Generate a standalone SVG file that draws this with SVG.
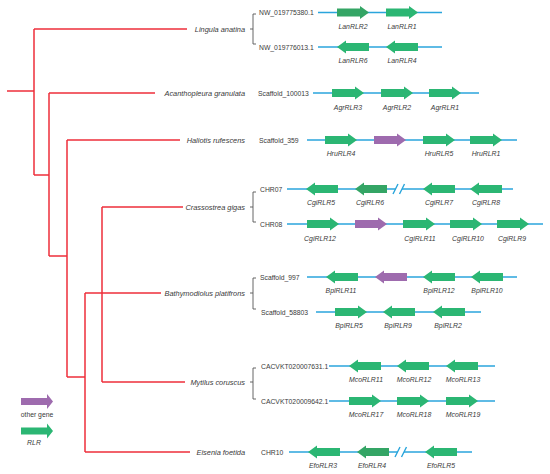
<svg xmlns="http://www.w3.org/2000/svg" xmlns:xlink="http://www.w3.org/1999/xlink" width="550" height="474" viewBox="0 0 550 474">
<style>
text{font-family:"Liberation Sans",Arial,sans-serif;fill:#3a3a3a}
.sp{font-size:7.4px;font-style:italic;text-anchor:end}
.sc{font-size:6.8px}
.gl{font-size:6.9px;font-style:italic;text-anchor:middle}
.tree{stroke:#ee2e3a;stroke-width:1.5;fill:none}
.br{stroke:#555;stroke-width:0.9;fill:none}
.tk{stroke:#2aa5dc;stroke-width:1.4}
.g{fill:#2bb673}
.d{fill:#34a565}
.p{fill:#9e6bae}
.cut{stroke:#2aa5dc;stroke-width:1.4}
</style>
<defs>
<path id="ar" d="M0,-4H23V-6.5L32,0L23,6.5V4H0Z"/>
<path id="lg" d="M0,-3.6H26V-7.4L32,0L26,7.4V3.6H0Z"/>
</defs>
<g id="connectors" class="tree">
<path d="M7,91H34"/>
<path d="M34,29V175"/>
<path d="M34,29H187"/>
<path d="M34,175H49"/>
<path d="M49,93V256"/>
<path d="M49,93H155"/>
<path d="M49,256H67"/>
<path d="M67,140V377"/>
<path d="M67,140H180"/>
<path d="M67,377H85"/>
<path d="M85,293V452"/>
<path d="M85,293H161"/>
<path d="M85,452H190"/>
<path d="M102,207V382"/>
<path d="M102,207H183"/>
<path d="M102,382H185"/>
</g>
<g id="lingula">
<text class="sp" x="245" y="31.5">Lingula anatina</text>
<path class="br" d="M250,29H253M256,14H253V44H256"/>
<text class="sc" x="259" y="15">NW_019775380.1</text>
<line class="tk" x1="318" y1="12.5" x2="442" y2="12.5"/>
<use xlink:href="#ar" class="d" transform="translate(337,12.5)"/>
<use xlink:href="#ar" class="g" transform="translate(386,12.5)"/>
<text class="gl" x="353" y="28.5">LanRLR2</text>
<text class="gl" x="402" y="28.5">LanRLR1</text>
<text class="sc" x="259" y="49.5">NW_019776013.1</text>
<line class="tk" x1="318" y1="47" x2="442" y2="47"/>
<use xlink:href="#ar" class="g" transform="translate(369,47) scale(-1,1)"/>
<use xlink:href="#ar" class="g" transform="translate(418,47) scale(-1,1)"/>
<text class="gl" x="353" y="63">LanRLR6</text>
<text class="gl" x="402" y="63">LanRLR4</text>
</g>
<g id="acanthopleura">
<text class="sp" x="245" y="95.5">Acanthopleura granulata</text>
<text class="sc" x="258" y="95.5">Scaffold_100013</text>
<line class="tk" x1="313" y1="93" x2="479" y2="93"/>
<use xlink:href="#ar" class="g" transform="translate(332,93)"/>
<use xlink:href="#ar" class="g" transform="translate(381,93)"/>
<use xlink:href="#ar" class="g" transform="translate(429,93)"/>
<text class="gl" x="348" y="109.5">AgrRLR3</text>
<text class="gl" x="397" y="109.5">AgrRLR2</text>
<text class="gl" x="445" y="109.5">AgrRLR1</text>
</g>
<g id="haliotis">
<text class="sp" x="245" y="142.5">Haliotis rufescens</text>
<text class="sc" x="259" y="142.5">Scaffold_359</text>
<line class="tk" x1="307" y1="140" x2="517" y2="140"/>
<use xlink:href="#ar" class="g" transform="translate(325,140)"/>
<use xlink:href="#ar" class="p" transform="translate(374,140)"/>
<use xlink:href="#ar" class="g" transform="translate(423,140)"/>
<use xlink:href="#ar" class="g" transform="translate(470,140)"/>
<text class="gl" x="341" y="156">HruRLR4</text>
<text class="gl" x="439" y="156">HruRLR5</text>
<text class="gl" x="486" y="156">HruRLR1</text>
</g>
<g id="crassostrea">
<text class="sp" x="245" y="209.5">Crassostrea gigas</text>
<path class="br" d="M250,207H253M256,192H253V222H256"/>
<text class="sc" x="260" y="191.5">CHR07</text>
<line class="tk" x1="287" y1="189" x2="396" y2="189"/>
<line class="tk" x1="402" y1="189" x2="513" y2="189"/>
<path class="cut" d="M393,194L398,184M399.5,194L404.5,184"/>
<use xlink:href="#ar" class="g" transform="translate(338,189) scale(-1,1)"/>
<use xlink:href="#ar" class="d" transform="translate(387,189) scale(-1,1)"/>
<use xlink:href="#ar" class="g" transform="translate(455,189) scale(-1,1)"/>
<use xlink:href="#ar" class="g" transform="translate(502,189) scale(-1,1)"/>
<text class="gl" x="321" y="205">CgiRLR5</text>
<text class="gl" x="370" y="205">CgiRLR6</text>
<text class="gl" x="439" y="205">CgiRLR7</text>
<text class="gl" x="486" y="205">CgiRLR8</text>
<text class="sc" x="260" y="226.5">CHR08</text>
<line class="tk" x1="287" y1="224" x2="543" y2="224"/>
<use xlink:href="#ar" class="g" transform="translate(307,224)"/>
<use xlink:href="#ar" class="p" transform="translate(355,224)"/>
<use xlink:href="#ar" class="g" transform="translate(403,224)"/>
<use xlink:href="#ar" class="g" transform="translate(450,224)"/>
<use xlink:href="#ar" class="g" transform="translate(497,224)"/>
<text class="gl" x="320" y="240.5">CgiRLR12</text>
<text class="gl" x="420" y="240.5">CgiRLR11</text>
<text class="gl" x="468" y="240.5">CgiRLR10</text>
<text class="gl" x="512" y="240.5">CgiRLR9</text>
</g>
<g id="bathymodiolus">
<text class="sp" x="245" y="295.5">Bathymodiolus platifrons</text>
<path class="br" d="M250,293H253M256,278H253V309H256"/>
<text class="sc" x="260" y="280">Scaffold_997</text>
<line class="tk" x1="307" y1="277" x2="517" y2="277"/>
<use xlink:href="#ar" class="g" transform="translate(358,277) scale(-1,1)"/>
<use xlink:href="#ar" class="p" transform="translate(407,277) scale(-1,1)"/>
<use xlink:href="#ar" class="g" transform="translate(455,277) scale(-1,1)"/>
<use xlink:href="#ar" class="g" transform="translate(503,277) scale(-1,1)"/>
<text class="gl" x="341" y="293">BplRLR11</text>
<text class="gl" x="439" y="293">BplRLR12</text>
<text class="gl" x="487" y="293">BplRLR10</text>
<text class="sc" x="261" y="314.5">Scaffold_58803</text>
<line class="tk" x1="316" y1="312" x2="481" y2="312"/>
<use xlink:href="#ar" class="g" transform="translate(335,312)"/>
<use xlink:href="#ar" class="g" transform="translate(415,312) scale(-1,1)"/>
<use xlink:href="#ar" class="g" transform="translate(465,312) scale(-1,1)"/>
<text class="gl" x="349" y="327.5">BplRLR5</text>
<text class="gl" x="398" y="327.5">BplRLR9</text>
<text class="gl" x="448" y="327.5">BplRLR2</text>
</g>
<g id="mytilus">
<text class="sp" x="245" y="384.5">Mytilus coruscus</text>
<path class="br" d="M250,382H253M256,368H253V399H256"/>
<text class="sc" x="261" y="368.5">CACVKT020007631.1</text>
<line class="tk" x1="329" y1="366" x2="495" y2="366"/>
<use xlink:href="#ar" class="g" transform="translate(381,366) scale(-1,1)"/>
<use xlink:href="#ar" class="g" transform="translate(429,366) scale(-1,1)"/>
<use xlink:href="#ar" class="g" transform="translate(478,366) scale(-1,1)"/>
<text class="gl" x="366" y="382">McoRLR11</text>
<text class="gl" x="414" y="382">McoRLR12</text>
<text class="gl" x="463" y="382">McoRLR13</text>
<text class="sc" x="261" y="403.5">CACVKT020009642.1</text>
<line class="tk" x1="329" y1="401" x2="495" y2="401"/>
<use xlink:href="#ar" class="g" transform="translate(349,401)"/>
<use xlink:href="#ar" class="g" transform="translate(397,401)"/>
<use xlink:href="#ar" class="g" transform="translate(446,401)"/>
<text class="gl" x="366" y="417">McoRLR17</text>
<text class="gl" x="414" y="417">McoRLR18</text>
<text class="gl" x="463" y="417">McoRLR19</text>
</g>
<g id="eisenia">
<text class="sp" x="245" y="454.5">Eisenia foetida</text>
<text class="sc" x="261" y="455">CHR10</text>
<line class="tk" x1="289" y1="452" x2="398" y2="452"/>
<line class="tk" x1="404" y1="452" x2="472" y2="452"/>
<path class="cut" d="M395,457L400,447M401.5,457L406.5,447"/>
<use xlink:href="#ar" class="g" transform="translate(340,452) scale(-1,1)"/>
<use xlink:href="#ar" class="d" transform="translate(389,452) scale(-1,1)"/>
<use xlink:href="#ar" class="g" transform="translate(457,452) scale(-1,1)"/>
<text class="gl" x="323" y="468">EfoRLR3</text>
<text class="gl" x="372" y="468">EfoRLR4</text>
<text class="gl" x="441" y="468">EfoRLR5</text>
</g>
<g id="legend">
<use xlink:href="#lg" class="p" transform="translate(21,401.5)"/>
<text class="sc" x="37" y="416.5" text-anchor="middle">other gene</text>
<use xlink:href="#lg" class="g" transform="translate(21,431)"/>
<text class="gl" x="34" y="444.5">RLR</text>
</g>
</svg>
